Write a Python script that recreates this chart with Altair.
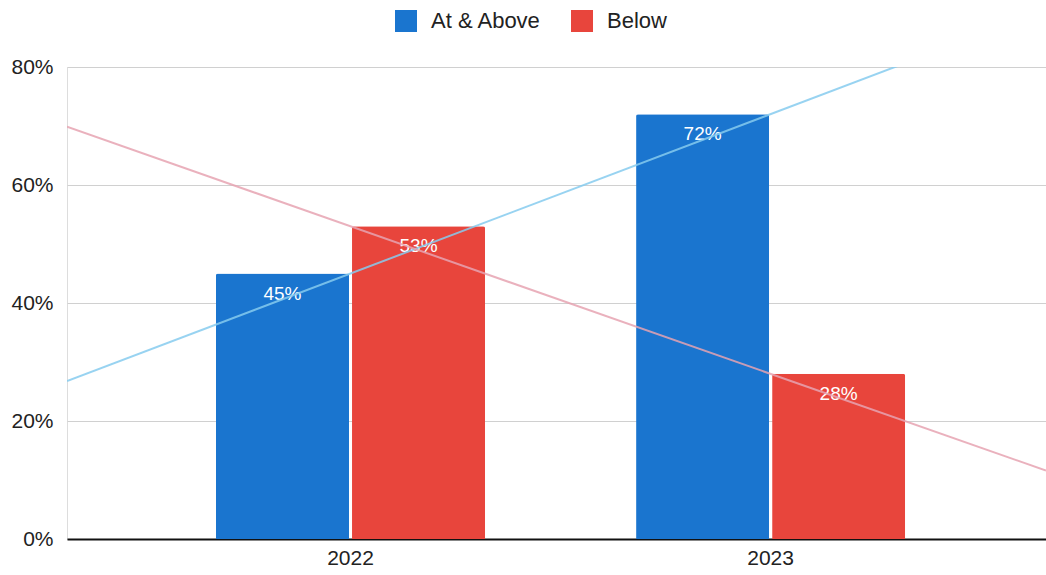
import altair as alt
import pandas as pd

years = ["2022", "2023"]
series_names = ["At & Above", "Below"]
at_above = [45, 72]
below = [53, 28]

bar_colors = ["#1a75cf", "#e8453c"]
trend_colors = ["#86cbee", "#e6a3b2"]

rows = []
for i, y in enumerate(years):
    rows.append({"year": y, "year_num": int(y), "series": series_names[0], "value": at_above[i]})
    rows.append({"year": y, "year_num": int(y), "series": series_names[1], "value": below[i]})
df = pd.DataFrame(rows)

FONT = "Liberation Sans"
x_min, x_max = 2021.325, 2023.656

base = alt.Chart(df)

x_band = alt.X(
    "year:N",
    title=None,
    scale=alt.Scale(paddingInner=0.3595, paddingOuter=0.345, align=0.514),
    axis=alt.Axis(
        labelAngle=0, labelFontSize=21, labelFont=FONT, labelColor="#222222",
        labelPadding=8, ticks=False, domainColor="#111111", domainWidth=2,
        grid=False,
    ),
)
x_off = alt.XOffset("series:N", scale=alt.Scale(paddingInner=0.022, domain=series_names))
y_enc = alt.Y(
    "value:Q",
    title=None,
    scale=alt.Scale(domain=[0, 80], nice=False),
    axis=alt.Axis(
        values=[0, 20, 40, 60, 80], labelExpr="datum.value + '%'",
        labelFontSize=21, labelFont=FONT, labelColor="#222222", labelPadding=14,
        ticks=False, domain=False, gridColor="#d0d0d0", gridWidth=1,
    ),
)

bars = base.mark_bar(cornerRadiusTopLeft=2, cornerRadiusTopRight=2).encode(
    x=x_band,
    xOffset=x_off,
    y=y_enc,
    color=alt.Color(
        "series:N",
        scale=alt.Scale(domain=series_names, range=bar_colors),
        legend=alt.Legend(
            title=None, orient="none", direction="horizontal",
            legendX=328, legendY=-57, symbolType="square", symbolSize=484,
            symbolStrokeWidth=0, labelFontSize=22, labelFont=FONT,
            labelColor="#222222", labelOffset=14, columnPadding=29, padding=0,
        ),
    ),
)

labels = base.mark_text(
    baseline="middle", dy=20, color="white", fontSize=19, font=FONT
).encode(
    x=alt.X("year:N", scale=alt.Scale(paddingInner=0.3595, paddingOuter=0.345, align=0.514)),
    xOffset=x_off,
    y=alt.Y("value:Q"),
    text=alt.Text("label:N"),
).transform_calculate(label="datum.value + '%'")

trend = base.transform_regression(
    "year_num", "value", groupby=["series"], extent=[x_min, x_max]
).mark_line(strokeWidth=2, clip=True, opacity=0.85).encode(
    x=alt.X("year_num:Q", scale=alt.Scale(domain=[x_min, x_max], nice=False, zero=False), axis=None),
    y=alt.Y("value:Q"),
    stroke=alt.Stroke("series:N", scale=alt.Scale(domain=series_names, range=trend_colors), legend=None),
)

chart = alt.layer(
    alt.layer(bars, labels), trend
).resolve_scale(x="independent").properties(
    width=979, height=472,
    autosize=alt.AutoSizeParams(type="none"),
    padding={"left": 67, "top": 67, "right": 0, "bottom": 36},
).configure_view(stroke=None).configure(background="white")

chart.save("out.html", embed_options={"renderer": "svg", "actions": False})
